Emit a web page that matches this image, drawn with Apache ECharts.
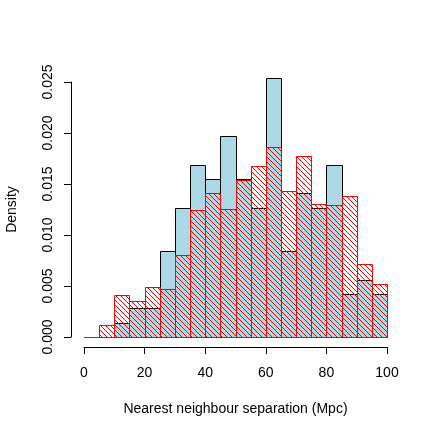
<!DOCTYPE html>
<html>
<head>
<meta charset="utf-8">
<script src="https://cdn.jsdelivr.net/npm/echarts@6/dist/echarts.min.js"></script>
<style>
  html, body { margin: 0; padding: 0; background: #fff; }
  #main { width: 436px; height: 436px; }
</style>
</head>
<body>
<div id="main"></div>
<script>
// bin left edges (width 5)
var binStart = [0, 5, 10, 15, 20, 25, 30, 35, 40, 45, 50, 55, 60, 65, 70, 75, 80, 85, 90, 95];
var binWidth = 5;
// densities
var blueDensity = [0, 0, 0.00141, 0.00282, 0.00282, 0.00845, 0.01268, 0.01690, 0.01549, 0.01972,
                   0.01549, 0.01268, 0.02535, 0.00845, 0.01408, 0.01268, 0.01690, 0.00423, 0.00563, 0.00423];
var redDensity = [0, 0.00122, 0.00416, 0.00350, 0.00488, 0.00471, 0.00802, 0.01241, 0.01414, 0.01257,
                  0.01538, 0.01673, 0.01865, 0.01430, 0.01777, 0.01306, 0.01290, 0.01378, 0.00717, 0.00524];

function toRows(vals){
  return binStart.map(function(s, i){ return [s, s + binWidth, vals[i]]; });
}

// hatch pattern "\"
var hatch = document.createElement('canvas');
hatch.width = 5; hatch.height = 5;
var hc = hatch.getContext('2d');
hc.strokeStyle = '#ff0000';
hc.lineWidth = 1;
hc.beginPath();
hc.moveTo(-1, -1); hc.lineTo(6, 6);
hc.moveTo(-1, 4); hc.lineTo(1, 6);
hc.moveTo(4, -1); hc.lineTo(6, 1);
hc.stroke();

function barItem(fill, stroke){
  return function(params, api){
    var p0 = api.coord([api.value(0), 0]);
    var p1 = api.coord([api.value(1), api.value(2)]);
    var x0 = Math.round(p0[0]) + 0.5, x1 = Math.round(p1[0]) + 0.5;
    var y0 = Math.round(p0[1]) + 0.5, y1 = Math.round(p1[1]) + 0.5;
    return {
      type: 'rect',
      shape: { x: x0, y: y1, width: x1 - x0, height: y0 - y1 },
      style: { fill: fill, stroke: stroke, lineWidth: 1 }
    };
  };
}

var chart = echarts.init(document.getElementById('main'));
var font = 'Liberation Sans, Arial, sans-serif';
chart.setOption({
  animation: false,
  backgroundColor: '#fff',
  grid: { left: 84, right: 49, top: 82, bottom: 99, outerBoundsMode: 'none' },
  xAxis: {
    type: 'value', min: 0, max: 100, interval: 20, offset: 10,
    name: 'Nearest neighbour separation (Mpc)', nameLocation: 'middle', nameGap: 55,
    nameTextStyle: { fontFamily: font, fontSize: 14, color: '#000' },
    axisLine: { onZero: false, lineStyle: { color: '#000', width: 1 } },
    axisTick: { length: 7, lineStyle: { color: '#000' } },
    axisLabel: { margin: 19, fontFamily: font, fontSize: 14, color: '#000' },
    splitLine: { show: false }
  },
  yAxis: {
    type: 'value', min: 0, max: 0.025, interval: 0.005, offset: 13,
    name: 'Density', nameLocation: 'middle', nameGap: 52, nameRotate: 90,
    nameTextStyle: { fontFamily: font, fontSize: 14, color: '#000' },
    axisLine: { show: true, onZero: false, lineStyle: { color: '#000', width: 1 } },
    axisTick: { show: true, length: 7, lineStyle: { color: '#000' } },
    axisLabel: { rotate: 90, margin: 16, fontFamily: font, fontSize: 14, color: '#000',
                 formatter: function(v){ return v.toFixed(3); } },
    splitLine: { show: false }
  },
  series: [
    { type: 'custom', data: toRows(blueDensity), renderItem: barItem('#add8e6', '#000'), clip: false },
    { type: 'custom', data: toRows(redDensity), renderItem: barItem({ image: hatch, repeat: 'repeat' }, '#ff0000'), clip: false }
  ]
});
</script>
</body>
</html>
